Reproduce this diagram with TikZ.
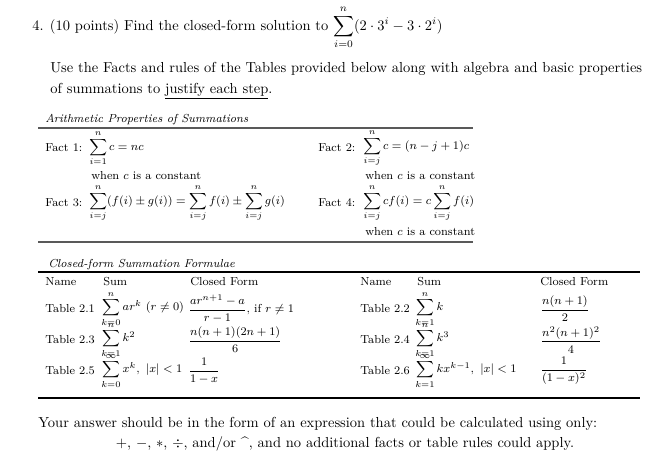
\documentclass[tikz,border=0pt]{standalone}
\usepackage{amsmath}
\begin{document}
\begin{tikzpicture}[x=0.69pt,y=-0.69pt,
  txt/.style={anchor=base west,inner sep=0pt},
  tab/.style={anchor=west,inner sep=0pt,font=\footnotesize},
  rulegray/.style={line width=1.5pt,black!65}]
\useasboundingbox (0,0) rectangle (665,459);
% question
\node[txt] (q) at (32,30) {4. (10 points) Find the closed-form solution to $\displaystyle\sum_{i=0}^{n}(2\cdot 3^i-3\cdot 2^i)$};
\node[txt] (use1) at (50,72) {Use the Facts and rules of the Tables provided below along with algebra and basic properties};
\node[txt] (use2) at (50,93) {of summations to \underline{justify each step}.};

% arithmetic properties
\node[txt,font=\footnotesize\itshape] (ap) at (45,122) {Arithmetic Properties of Summations};
\draw[rulegray] (38,128) -- (473,128);
\node[tab] (f1) at (45,148) {Fact 1:};
\node[tab] (s1) at (89,148) {$\displaystyle\sum_{i=1}^{n} c = nc$};
\node[tab] (w1) at (91,176) {when $c$ is a constant};
\node[tab] (f2) at (318,148) {Fact 2:};
\node[tab] (s2) at (363,148) {$\displaystyle\sum_{i=j}^{n} c = (n-j+1)c$};
\node[tab] (w2) at (365,176) {when $c$ is a constant};
\node[tab] (f3) at (45,203) {Fact 3:};
\node[tab] (s3) at (89,203) {$\displaystyle\sum_{i=j}^{n}(f(i)\pm g(i)) = \sum_{i=j}^{n} f(i) \pm \sum_{i=j}^{n} g(i)$};
\node[tab] (f4) at (318,203) {Fact 4:};
\node[tab] (s4) at (363,203) {$\displaystyle\sum_{i=j}^{n} cf(i) = c\sum_{i=j}^{n} f(i)$};
\node[tab] (w4) at (365,232) {when $c$ is a constant};
\draw[rulegray] (38,242) -- (473,242);

% closed form table
\node[txt,font=\footnotesize\itshape] (cf) at (48,267) {Closed-form Summation Formulae};
\draw[line width=1pt] (38,272) -- (640,272);
\foreach \name/\x/\t in {h1/45/Name, h2/103/Sum, h3/190/Closed Form, h4/360/Name, h5/417/Sum, h6/540/Closed Form}
  \node[tab] (\name) at (\x,282) {\t};
\node[tab] (t1) at (45,309) {Table 2.1};
\node[tab] (u1) at (101,309) {$\displaystyle\sum_{k=0}^{n} ar^k\ (r\neq 0)$};
\node[tab] (c1) at (188,309) {$\dfrac{ar^{n+1}-a}{r-1}$, if $r\neq 1$};
\node[tab] (t2) at (360,309) {Table 2.2};
\node[tab] (u2) at (415,309) {$\displaystyle\sum_{k=1}^{n} k$};
\node[tab] (c2) at (540,309) {$\dfrac{n(n+1)}{2}$};
\node[tab] (t3) at (45,340) {Table 2.3};
\node[tab] (u3) at (101,340) {$\displaystyle\sum_{k=1}^{n} k^2$};
\node[tab] (c3) at (188,340) {$\dfrac{n(n+1)(2n+1)}{6}$};
\node[tab] (t4) at (360,340) {Table 2.4};
\node[tab] (u4) at (415,340) {$\displaystyle\sum_{k=1}^{n} k^3$};
\node[tab] (c4) at (540,340) {$\dfrac{n^2(n+1)^2}{4}$};
\node[tab] (t5) at (45,371) {Table 2.5};
\node[tab] (u5) at (101,371) {$\displaystyle\sum_{k=0}^{\infty} x^k,\ |x|<1$};
\node[tab] (c5) at (188,371) {$\dfrac{1}{1-x}$};
\node[tab] (t6) at (360,371) {Table 2.6};
\node[tab] (u6) at (415,371) {$\displaystyle\sum_{k=1}^{\infty} kx^{k-1},\ |x|<1$};
\node[tab] (c6) at (540,371) {$\dfrac{1}{(1-x)^2}$};
\draw[line width=1pt] (38,398) -- (640,398);

% answer form
\node[txt] (ans1) at (38,427) {Your answer should be in the form of an expression that could be calculated using only:};
\node[anchor=base,inner sep=0pt] (ans2) at (345,447) {$+$, $-$, $*$, $\div$, and/or \^{}, and no additional facts or table rules could apply.};
\end{tikzpicture}
\end{document}
